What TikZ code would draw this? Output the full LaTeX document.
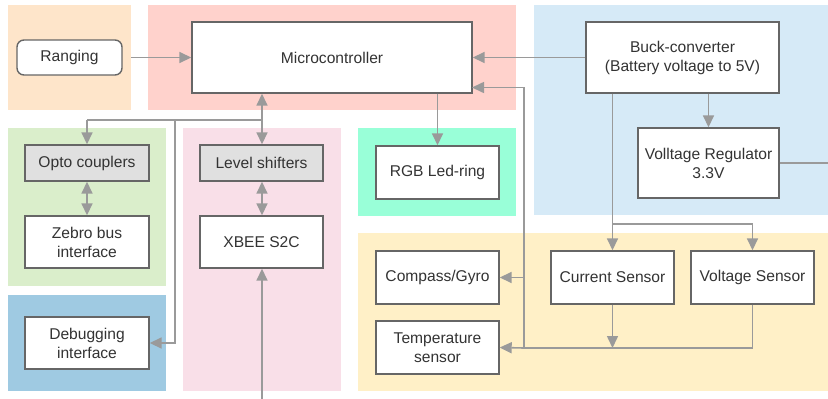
\documentclass[tikz,border=0pt]{standalone}
\usepackage{fontspec}
\setmainfont{Liberation Sans}
\usetikzlibrary{arrows.meta}
\definecolor{bgorange}{HTML}{FEE5CA}
\definecolor{bgred}{HTML}{FFD2CC}
\definecolor{bglblue}{HTML}{D6EAF7}
\definecolor{bggreen}{HTML}{DAEECB}
\definecolor{bgdblue}{HTML}{9FCAE2}
\definecolor{bgpink}{HTML}{F9DFE8}
\definecolor{bgmint}{HTML}{99FFD8}
\definecolor{bgyellow}{HTML}{FFF0C7}
\definecolor{boxline}{HTML}{666666}
\definecolor{wire}{HTML}{9A9A9A}
\definecolor{txt}{HTML}{333333}
\definecolor{grayfill}{HTML}{E0E0E0}
\begin{document}
\begin{tikzpicture}[x=1pt,y=-1pt,
  blk/.style={draw=boxline,line width=1.4pt,fill=white,text=txt,align=center,
    font=\fontsize{15.6}{19}\selectfont,inner sep=0pt},
  graybox/.style={blk,fill=grayfill},
  conn/.style={draw=wire,line width=1.6pt,-{Triangle[length=12pt,width=11pt]}},
  dconn/.style={draw=wire,line width=1.6pt,{Triangle[length=12pt,width=11pt]}-{Triangle[length=12pt,width=11pt]}},
  plain/.style={draw=wire,line width=1.6pt}]
\useasboundingbox (0,0) rectangle (828,399);
% backgrounds
\fill[bgorange] (8,5) rectangle (131,110);
\fill[bgred] (148,5) rectangle (516,110);
\fill[bglblue] (534,5) rectangle (828,215);
\fill[bggreen] (8,128) rectangle (166,286);
\fill[bgdblue] (8,295) rectangle (166,391);
\fill[bgpink] (183,128) rectangle (341,391);
\fill[bgmint] (358,128) rectangle (516,216);
\fill[bgyellow] (358,233) rectangle (828,391);
% nodes
\node[blk,rounded corners=7pt,minimum width=105pt,minimum height=35pt] (rang) at (69.5,57.5) {Ranging};
\node[blk,minimum width=280pt,minimum height=71pt] (mc) at (332,57.5) {Microcontroller};
\node[blk,minimum width=193pt,minimum height=71pt] (buck) at (682.5,57.5) {Buck-converter\\(Battery voltage to 5V)};
\node[blk,minimum width=141pt,minimum height=70pt] (vreg) at (708.5,163) {Volltage Regulator\\3.3V};
\node[graybox,minimum width=124pt,minimum height=36pt] (opto) at (87,163) {Opto couplers};
\node[blk,minimum width=124pt,minimum height=52pt] (zebro) at (87,242) {Zebro bus\\interface};
\node[blk,minimum width=124pt,minimum height=52pt] (debug) at (87,343) {Debugging\\interface};
\node[graybox,minimum width=123pt,minimum height=36pt] (level) at (261.5,163) {Level shifters};
\node[blk,minimum width=123pt,minimum height=52pt] (xbee) at (261.5,242) {XBEE S2C};
\node[blk,minimum width=123pt,minimum height=53pt] (rgb) at (437.5,172.5) {RGB Led-ring};
\node[blk,minimum width=123pt,minimum height=53pt] (compass) at (437.5,277.5) {Compass/Gyro};
\node[blk,minimum width=123pt,minimum height=53pt] (temp) at (437.5,347.5) {Temperature\\sensor};
\node[blk,minimum width=123pt,minimum height=53pt] (curr) at (612.5,277.5) {Current Sensor};
\node[blk,minimum width=123pt,minimum height=53pt] (volt) at (752.5,277.5) {Voltage Sensor};
% helper coordinates
\coordinate (rangout) at (131,57.5);
\coordinate (busL) at (87,120);
\coordinate (busM) at (175,120);
\coordinate (busR) at (262,120);
\coordinate (dbgturn) at (175,343);
\coordinate (pwrsplit) at (612.5,224);
\coordinate (sensbus) at (612.5,348);
\coordinate (retR) at (752.5,348);
\coordinate (retL) at (524,348);
\coordinate (retC) at (524,277.5);
\coordinate (retTop) at (524,87.5);
\coordinate (mcret) at (472,87.5);
\coordinate (vregout) at (828,163);
\coordinate (xbeein) at (262,399);
% connectors
\draw[conn] (rangout) -- (mc.west);
\draw[conn] (buck.west) -- (mc.east);
\draw[conn] (rgb.north |- mc.south) -- (rgb.north);
\draw[conn] (vreg.north |- buck.south) -- (vreg.north);
\draw[plain] (vreg.east) -- (vregout);
\draw[conn] (curr.north |- buck.south) -- (curr.north);
\draw[conn] (pwrsplit) -| (volt.north);
\draw[conn] (curr.south) -- (sensbus);
\draw[conn] (volt.south) -- (retR) -- (retL) -- (retTop) -- (mcret);
\draw[conn] (retC) -- (compass.east);
\draw[conn] (retL) -- (temp.east);
\draw[dconn] (mc.south -| busR) -- (level.north -| busR);
\draw[plain] (busR) -- (busL);
\draw[conn] (busL) -- (opto.north);
\draw[conn] (busM) -- (dbgturn) -- (debug.east);
\draw[dconn] (opto.south) -- (zebro.north);
\draw[dconn] (level.south -| busR) -- (xbee.north -| busR);
\draw[conn] (xbeein) -- (xbee.south -| xbeein);
\end{tikzpicture}
\end{document}
